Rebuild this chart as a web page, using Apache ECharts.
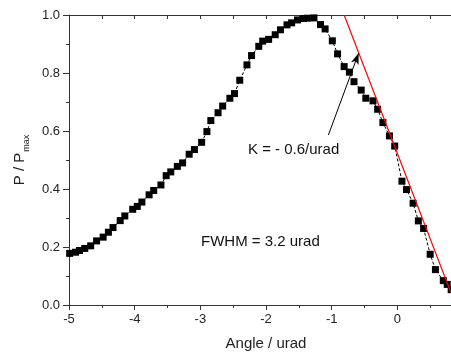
<!DOCTYPE html>
<html><head><meta charset="utf-8">
<script src="https://cdn.jsdelivr.net/npm/echarts@6/dist/echarts.min.js"></script>
<style>html,body{margin:0;padding:0;background:#fff}#c{width:451px;height:354px}</style>
</head><body><div id="c"></div>
<script>
// Measured data (angle in urad, normalized power)
const angle = [-4.99,-4.90,-4.84,-4.76,-4.67,-4.58,-4.48,-4.40,-4.33,-4.22,-4.15,-4.03,-3.96,-3.89,-3.78,-3.71,-3.60,-3.52,-3.45,-3.35,-3.27,-3.17,-3.09,-2.98,-2.90,-2.84,-2.73,-2.66,-2.55,-2.48,-2.40,-2.29,-2.22,-2.11,-2.05,-1.96,-1.86,-1.78,-1.68,-1.61,-1.52,-1.43,-1.37,-1.27,-1.17,-1.10,-0.99,-0.91,-0.81,-0.73,-0.66,-0.55,-0.48,-0.37,-0.30,-0.22,-0.12,-0.04,0.07,0.14,0.24,0.32,0.40,0.50,0.58,0.70,0.76,0.82];
const power = [0.178,0.182,0.188,0.195,0.204,0.221,0.234,0.251,0.267,0.291,0.307,0.330,0.340,0.355,0.380,0.395,0.414,0.446,0.459,0.478,0.490,0.520,0.536,0.561,0.598,0.636,0.663,0.686,0.713,0.729,0.775,0.828,0.860,0.892,0.910,0.916,0.932,0.949,0.966,0.973,0.983,0.988,0.989,0.990,0.967,0.952,0.911,0.866,0.822,0.803,0.770,0.741,0.713,0.704,0.675,0.629,0.583,0.548,0.427,0.398,0.351,0.290,0.264,0.175,0.122,0.084,0.071,0.053];
// Linear fit (slope K = -0.6/urad), endpoints
const fitAngle = [-0.81, 0.82];
const fitPower = [1.0, 0.04];
// Arrow annotation endpoints (data units)
const arrowFrom = [-1.05, 0.586];
const arrowTo = [-0.59, 0.868];
const xLabelTicks = [-5,-4,-3,-2,-1,0];
const yLabelTicks = [0.0,0.2,0.4,0.6,0.8,1.0];
const kText = 'K = - 0.6/urad';
const fwhmText = 'FWHM = 3.2 urad';

const FONT = '"Liberation Sans", Arial, Helvetica, sans-serif';
const chart = echarts.init(document.getElementById('c'), null, {renderer:'canvas'});
const axisColor = '#333';
chart.setOption({
  animation:false,
  backgroundColor:'#fff',
  textStyle:{fontFamily:FONT},
  grid:{left:69, top:15, height:290, width:394, containLabel:false, outerBoundsMode:'none'},
  xAxis:[{
    type:'value', min:-5, max:1, interval:1, position:'bottom',
    axisLine:{show:true, onZero:false, lineStyle:{color:axisColor, width:1}},
    axisTick:{show:true, length:5, inside:false, lineStyle:{color:axisColor}},
    minorTick:{show:true, splitNumber:2, length:3, lineStyle:{color:axisColor}},
    splitLine:{show:false},
    axisLabel:{color:'#222', fontSize:13, margin:8, fontFamily:FONT,
      formatter:v=> xLabelTicks.indexOf(v)>=0 ? String(v) : ''},
    name:'Angle / urad', nameLocation:'middle', nameGap:31,
    nameTextStyle:{fontSize:15, color:'#222', fontFamily:FONT}
  },{
    type:'value', min:-5, max:1, interval:0.5, position:'top',
    axisLine:{show:true, onZero:false, lineStyle:{color:axisColor, width:1}},
    axisTick:{show:true, length:4, inside:true, lineStyle:{color:axisColor}},
    axisLabel:{show:false}, splitLine:{show:false}
  }],
  yAxis:[{
    type:'value', min:0, max:1, interval:0.2,
    axisLine:{show:true, onZero:false, lineStyle:{color:axisColor, width:1}},
    axisTick:{show:true, length:6, inside:false, lineStyle:{color:axisColor}},
    minorTick:{show:true, splitNumber:2, length:3, lineStyle:{color:axisColor}},
    splitLine:{show:false},
    axisLabel:{color:'#222', fontSize:13, margin:9, fontFamily:FONT,
      formatter:v=> v.toFixed(1)},
    name:'{m|P / P}{s|max}', nameLocation:'middle', nameGap:31, nameRotate:90,
    nameTextStyle:{fontFamily:FONT, color:'#222',
      rich:{m:{fontSize:15, lineHeight:15, verticalAlign:'top', fontFamily:FONT, color:'#222'},
            s:{fontSize:9, lineHeight:9, verticalAlign:'top', padding:[10,0,0,1], fontFamily:FONT, color:'#222'}}}
  }],
  series:[{
    type:'line', xAxisIndex:0, yAxisIndex:0,
    data: angle.map((a,i)=>[a, power[i]]),
    symbol:'rect', symbolSize:7, showSymbol:true, clip:true,
    itemStyle:{color:'#000'},
    lineStyle:{color:'#000', width:1, type:[3,2]},
    z:3,
    markLine:{
      silent:true, symbol:['none','arrow'], symbolSize:[6,11],
      lineStyle:{color:'#000', width:1, type:'solid'},
      label:{show:false},
      data:[[{coord:arrowFrom},{coord:arrowTo}]]
    }
  },{
    type:'line', xAxisIndex:0, yAxisIndex:0,
    data: fitAngle.map((a,i)=>[a, fitPower[i]]),
    symbol:'none', clip:true,
    lineStyle:{color:'#ff0000', width:1.2},
    z:4
  }],
  graphic:[
    {type:'text', x:248, y:149.5, style:{text:kText, font:'15px '+FONT, fill:'#111', verticalAlign:'middle'}},
    {type:'text', x:201, y:242, style:{text:fwhmText, font:'15px '+FONT, fill:'#111', verticalAlign:'middle'}}
  ]
});
</script>
</body></html>
